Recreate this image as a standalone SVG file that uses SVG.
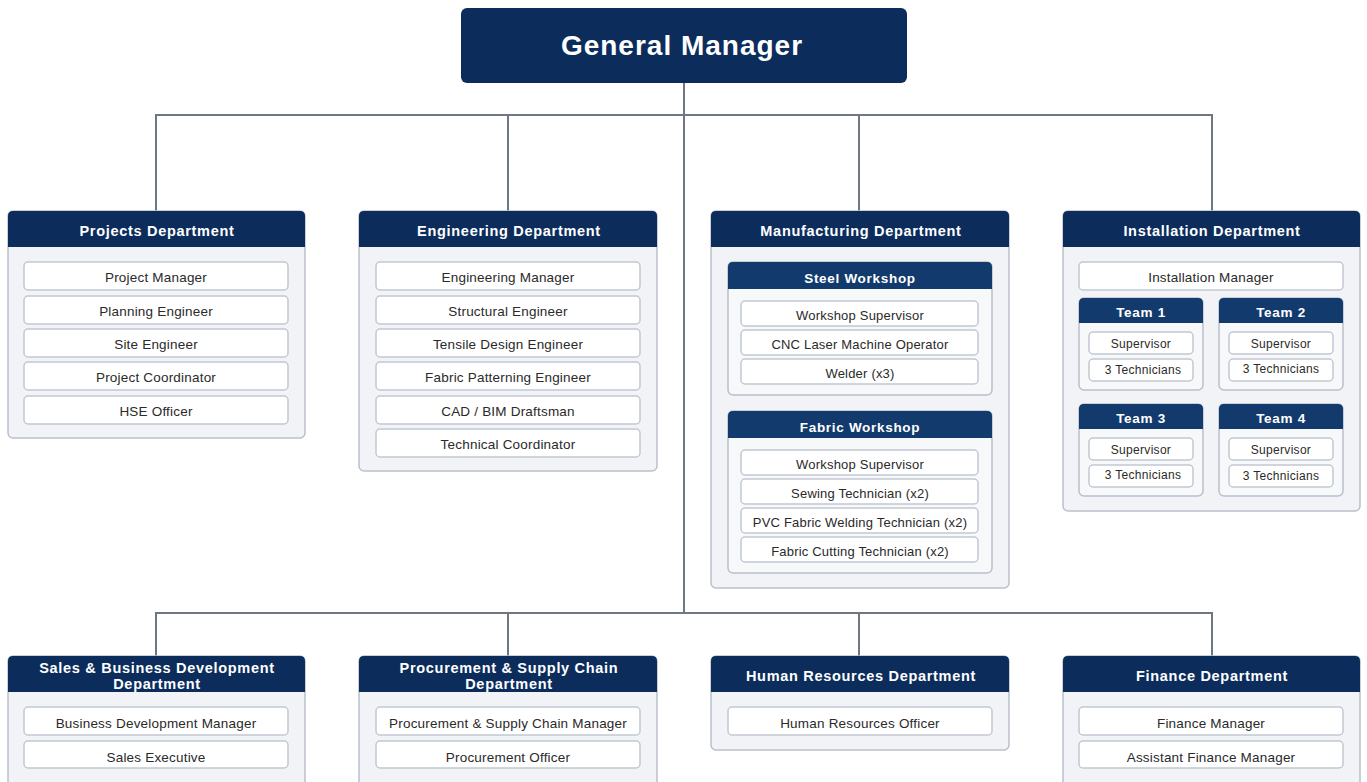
<svg xmlns="http://www.w3.org/2000/svg" width="1367" height="782" viewBox="0 0 1367 782">
<style>
.bg{fill:#ffffff}
.conn{stroke:#6f7782;stroke-width:2;fill:none}
.gm{fill:#0c2d5c}
.gmt{font-family:"Liberation Sans",Arial,sans-serif;font-weight:bold;font-size:28px;fill:#ffffff;text-anchor:middle;letter-spacing:1px}
.body{fill:#f1f3f7;stroke:#b9c0cb;stroke-width:1.5}
.hdr{fill:#0c2d5c}
.sub{fill:#123a6d}
.ht{font-family:"Liberation Sans",Arial,sans-serif;font-weight:bold;font-size:14.5px;fill:#ffffff;text-anchor:middle;letter-spacing:0.7px}
.st{font-family:"Liberation Sans",Arial,sans-serif;font-weight:bold;font-size:13.5px;fill:#ffffff;text-anchor:middle;letter-spacing:0.7px}
.sbody{fill:#f7f8fa;stroke:#b9c0cb;stroke-width:1.5}
.item{fill:#ffffff;stroke:#c2c8d2;stroke-width:1.5}
.it{font-family:"Liberation Sans",Arial,sans-serif;font-size:13.5px;fill:#2a2a2a;text-anchor:middle;letter-spacing:0.2px}
.wt{font-family:"Liberation Sans",Arial,sans-serif;font-size:13px;fill:#2a2a2a;text-anchor:middle;letter-spacing:0.2px}
.tt{font-family:"Liberation Sans",Arial,sans-serif;font-size:12px;fill:#2a2a2a;text-anchor:middle;letter-spacing:0.3px}
</style>
<rect class="bg" x="0" y="0" width="1367" height="782"/>

<g id="connectors">
<path class="conn" d="M684 83 V613"/>
<path class="conn" d="M156 211 V115 H1212 V211"/>
<path class="conn" d="M508 115 V211"/>
<path class="conn" d="M859 115 V211"/>
<path class="conn" d="M156 656 V613 H1212 V656"/>
<path class="conn" d="M508 613 V656"/>
<path class="conn" d="M859 613 V656"/>
</g>

<g id="general-manager">
<rect class="gm" x="461" y="8" width="446" height="75" rx="6"/>
<text class="gmt" x="682" y="55">General Manager</text>
</g>

<g id="projects">
<rect class="body" x="8" y="211" width="297" height="227" rx="5"/>
<path class="hdr" d="M8 247 V216 Q8 211 13 211 H300 Q305 211 305 216 V247 Z"/>
<text class="ht" x="157" y="236">Projects Department</text>
<rect class="item" x="24" y="262" width="264" height="28" rx="4"/><text class="it" x="156" y="282">Project Manager</text>
<rect class="item" x="24" y="296" width="264" height="28" rx="4"/><text class="it" x="156" y="316">Planning Engineer</text>
<rect class="item" x="24" y="329" width="264" height="28" rx="4"/><text class="it" x="156" y="349">Site Engineer</text>
<rect class="item" x="24" y="362" width="264" height="28" rx="4"/><text class="it" x="156" y="382">Project Coordinator</text>
<rect class="item" x="24" y="396" width="264" height="28" rx="4"/><text class="it" x="156" y="416">HSE Officer</text>
</g>

<g id="engineering">
<rect class="body" x="359" y="211" width="298" height="260" rx="5"/>
<path class="hdr" d="M359 247 V216 Q359 211 364 211 H652 Q657 211 657 216 V247 Z"/>
<text class="ht" x="509" y="236">Engineering Department</text>
<rect class="item" x="376" y="262" width="264" height="28" rx="4"/><text class="it" x="508" y="282">Engineering Manager</text>
<rect class="item" x="376" y="296" width="264" height="28" rx="4"/><text class="it" x="508" y="316">Structural Engineer</text>
<rect class="item" x="376" y="329" width="264" height="28" rx="4"/><text class="it" x="508" y="349">Tensile Design Engineer</text>
<rect class="item" x="376" y="362" width="264" height="28" rx="4"/><text class="it" x="508" y="382">Fabric Patterning Engineer</text>
<rect class="item" x="376" y="396" width="264" height="28" rx="4"/><text class="it" x="508" y="416">CAD / BIM Draftsman</text>
<rect class="item" x="376" y="429" width="264" height="28" rx="4"/><text class="it" x="508" y="449">Technical Coordinator</text>
</g>

<g id="manufacturing">
<rect class="body" x="711" y="211" width="298" height="377" rx="5"/>
<path class="hdr" d="M711 247 V216 Q711 211 716 211 H1004 Q1009 211 1009 216 V247 Z"/>
<text class="ht" x="861" y="236">Manufacturing Department</text>
<g id="steel-workshop">
<rect class="sbody" x="728" y="262" width="264" height="133" rx="5"/>
<path class="sub" d="M728 289 V267 Q728 262 733 262 H987 Q992 262 992 267 V289 Z"/>
<text class="st" x="860" y="283">Steel Workshop</text>
<rect class="item" x="741" y="301" width="237" height="25" rx="4"/><text class="wt" x="860" y="320">Workshop Supervisor</text>
<rect class="item" x="741" y="330" width="237" height="25" rx="4"/><text class="wt" x="860" y="349">CNC Laser Machine Operator</text>
<rect class="item" x="741" y="359" width="237" height="25" rx="4"/><text class="wt" x="860" y="378">Welder (x3)</text>
</g>
<g id="fabric-workshop">
<rect class="sbody" x="728" y="411" width="264" height="162" rx="5"/>
<path class="sub" d="M728 438 V416 Q728 411 733 411 H987 Q992 411 992 416 V438 Z"/>
<text class="st" x="860" y="432">Fabric Workshop</text>
<rect class="item" x="741" y="450" width="237" height="25" rx="4"/><text class="wt" x="860" y="469">Workshop Supervisor</text>
<rect class="item" x="741" y="479" width="237" height="25" rx="4"/><text class="wt" x="860" y="498">Sewing Technician (x2)</text>
<rect class="item" x="741" y="508" width="237" height="25" rx="4"/><text class="wt" x="860" y="527">PVC Fabric Welding Technician (x2)</text>
<rect class="item" x="741" y="537" width="237" height="25" rx="4"/><text class="wt" x="860" y="556">Fabric Cutting Technician (x2)</text>
</g>
</g>

<g id="installation">
<rect class="body" x="1063" y="211" width="297" height="300" rx="5"/>
<path class="hdr" d="M1063 247 V216 Q1063 211 1068 211 H1355 Q1360 211 1360 216 V247 Z"/>
<text class="ht" x="1212" y="236">Installation Department</text>
<rect class="item" x="1079" y="262" width="264" height="28" rx="4"/><text class="it" x="1211" y="282">Installation Manager</text>
<g id="team1">
<rect class="sbody" x="1079" y="298" width="124" height="92" rx="5"/>
<path class="sub" d="M1079 323 V303 Q1079 298 1084 298 H1198 Q1203 298 1203 303 V323 Z"/>
<text class="st" x="1141" y="317">Team 1</text>
<rect class="item" x="1089" y="332" width="104" height="22" rx="4"/><text class="tt" x="1141" y="348">Supervisor</text>
<rect class="item" x="1089" y="359" width="104" height="22" rx="4"/><text class="tt" x="1143" y="374">3 Technicians</text>
</g>
<g id="team2">
<rect class="sbody" x="1219" y="298" width="124" height="92" rx="5"/>
<path class="sub" d="M1219 323 V303 Q1219 298 1224 298 H1338 Q1343 298 1343 303 V323 Z"/>
<text class="st" x="1281" y="317">Team 2</text>
<rect class="item" x="1229" y="332" width="104" height="22" rx="4"/><text class="tt" x="1281" y="348">Supervisor</text>
<rect class="item" x="1229" y="359" width="104" height="22" rx="4"/><text class="tt" x="1281" y="373">3 Technicians</text>
</g>
<g id="team3">
<rect class="sbody" x="1079" y="404" width="124" height="92" rx="5"/>
<path class="sub" d="M1079 429 V409 Q1079 404 1084 404 H1198 Q1203 404 1203 409 V429 Z"/>
<text class="st" x="1141" y="423">Team 3</text>
<rect class="item" x="1089" y="438" width="104" height="22" rx="4"/><text class="tt" x="1141" y="454">Supervisor</text>
<rect class="item" x="1089" y="465" width="104" height="22" rx="4"/><text class="tt" x="1143" y="479">3 Technicians</text>
</g>
<g id="team4">
<rect class="sbody" x="1219" y="404" width="124" height="92" rx="5"/>
<path class="sub" d="M1219 429 V409 Q1219 404 1224 404 H1338 Q1343 404 1343 409 V429 Z"/>
<text class="st" x="1281" y="423">Team 4</text>
<rect class="item" x="1229" y="438" width="104" height="22" rx="4"/><text class="tt" x="1281" y="454">Supervisor</text>
<rect class="item" x="1229" y="465" width="104" height="22" rx="4"/><text class="tt" x="1281" y="480">3 Technicians</text>
</g>
</g>

<g id="sales">
<rect class="body" x="8" y="656" width="297" height="130" rx="5"/>
<path class="hdr" d="M8 692 V661 Q8 656 13 656 H300 Q305 656 305 661 V692 Z"/>
<text class="ht" x="157" y="673">Sales &amp; Business Development</text>
<text class="ht" x="157" y="689">Department</text>
<rect class="item" x="24" y="707" width="264" height="28" rx="4"/><text class="it" x="156" y="728">Business Development Manager</text>
<rect class="item" x="24" y="741" width="264" height="27" rx="4"/><text class="it" x="156" y="762">Sales Executive</text>
</g>

<g id="procurement">
<rect class="body" x="359" y="656" width="298" height="130" rx="5"/>
<path class="hdr" d="M359 692 V661 Q359 656 364 656 H652 Q657 656 657 661 V692 Z"/>
<text class="ht" x="509" y="673">Procurement &amp; Supply Chain</text>
<text class="ht" x="509" y="689">Department</text>
<rect class="item" x="376" y="707" width="264" height="28" rx="4"/><text class="it" x="508" y="728">Procurement &amp; Supply Chain Manager</text>
<rect class="item" x="376" y="741" width="264" height="27" rx="4"/><text class="it" x="508" y="762">Procurement Officer</text>
</g>

<g id="human-resources">
<rect class="body" x="711" y="656" width="298" height="94" rx="5"/>
<path class="hdr" d="M711 692 V661 Q711 656 716 656 H1004 Q1009 656 1009 661 V692 Z"/>
<text class="ht" x="861" y="681">Human Resources Department</text>
<rect class="item" x="728" y="707" width="264" height="28" rx="4"/><text class="it" x="860" y="728">Human Resources Officer</text>
</g>

<g id="finance">
<rect class="body" x="1063" y="656" width="297" height="130" rx="5"/>
<path class="hdr" d="M1063 692 V661 Q1063 656 1068 656 H1355 Q1360 656 1360 661 V692 Z"/>
<text class="ht" x="1212" y="681">Finance Department</text>
<rect class="item" x="1079" y="707" width="264" height="28" rx="4"/><text class="it" x="1211" y="728">Finance Manager</text>
<rect class="item" x="1079" y="741" width="264" height="27" rx="4"/><text class="it" x="1211" y="762">Assistant Finance Manager</text>
</g>
</svg>
